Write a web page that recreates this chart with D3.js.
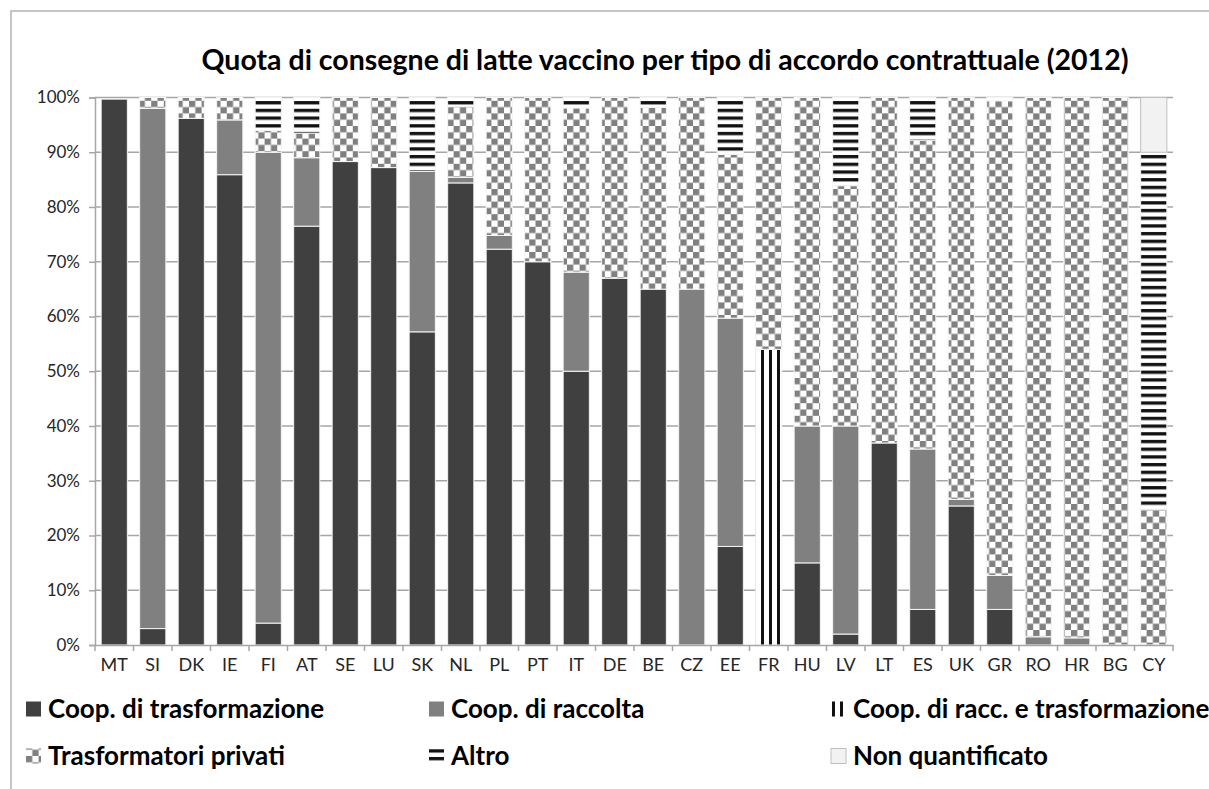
<!DOCTYPE html>
<html>
<head>
<meta charset="utf-8">
<script src="https://cdn.jsdelivr.net/npm/d3@7"></script>
<style>
  body { margin: 0; background: #fff; }
  svg { display: block; font-family: Lato, "Open Sans", sans-serif; }
</style>
</head>
<body>
<div id="bar-plot"></div>
<script>
// values (% of deliveries)
const countries = ["MT","SI","DK","IE","FI","AT","SE","LU","SK","NL","PL","PT","IT","DE","BE","CZ","EE","FR","HU","LV","LT","ES","UK","GR","RO","HR","BG","CY"];
const coopTrasf     = [99.7, 3, 96.2, 85.9, 4, 76.5, 88.3, 87.2, 57.2, 84.4, 72.3, 70, 50, 67, 65, 0, 18, 0, 15, 2, 36.9, 6.5, 25.4, 6.5, 0, 0, 0, 0];
const coopRaccolta  = [0, 95, 0, 10, 86, 12.5, 0, 0, 29.3, 1, 2.5, 0, 18.1, 0, 0, 65, 41.7, 0, 25, 38, 0, 29.3, 1.2, 6.2, 1.5, 1.3, 0, 0];
const coopRaccTrasf = [0, 0, 0, 0, 0, 0, 0, 0, 0, 0, 0, 0, 0, 0, 0, 0, 0, 54, 0, 0, 0, 0, 0, 0, 0, 0, 0, 0];
const privati       = [0, 2, 3.8, 4.1, 4, 4.5, 11.7, 12.8, 0, 13, 25.2, 30, 30, 33, 33.2, 35, 29.9, 46, 60, 43.9, 63.1, 56.4, 73.4, 86.7, 98.5, 98.7, 100, 24.8];
const altro         = [0, 0, 0, 0, 6, 6.5, 0, 0, 13.5, 1.6, 0, 0, 1.9, 0, 1.8, 0, 10.4, 0, 0, 16.1, 0, 7.8, 0, 0.6, 0, 0, 0, 65.2];
const nonQuant      = [0, 0, 0, 0, 0, 0, 0, 0, 0, 0, 0, 0, 0, 0, 0, 0, 0, 0, 0, 0, 0, 0, 0, 0, 0, 0, 0, 10];

const seriesKeys = ["trasf", "raccolta", "raccTrasf", "privati", "altro", "nonQuant"];
const seriesNames = ["Coop. di trasformazione", "Coop. di raccolta", "Coop. di racc. e trasformazione",
                     "Trasformatori privati", "Altro", "Non quantificato"];
const yTicks = [0, 10, 20, 30, 40, 50, 60, 70, 80, 90, 100];
const title = "Quota di consegne di latte vaccino per tipo di accordo contrattuale (2012)";

const width = 1209;
const height = 789;
const margin = { left: 95, right: 36, top: 97.5, bottom: 144 };

const data = countries.map((c, i) => ({
    country: c,
    trasf: coopTrasf[i],
    raccolta: coopRaccolta[i],
    raccTrasf: coopRaccTrasf[i],
    privati: privati[i],
    altro: altro[i],
    nonQuant: nonQuant[i]
}));

let svg = d3.select("#bar-plot")
    .append("svg")
    .attr("width", width)
    .attr("height", height);

// patterns
let defs = svg.append("defs");

let pChk = defs.append("pattern").attr("id", "pat-privati")
    .attr("patternUnits", "userSpaceOnUse").attr("width", 12.6).attr("height", 12.6);
pChk.append("rect").attr("width", 12.6).attr("height", 12.6).attr("fill", "#fff");
pChk.append("rect").attr("width", 6.3).attr("height", 6.3).attr("fill", "#808080");
pChk.append("rect").attr("x", 6.3).attr("y", 6.3).attr("width", 6.3).attr("height", 6.3).attr("fill", "#808080");

let pH = defs.append("pattern").attr("id", "pat-altro")
    .attr("patternUnits", "userSpaceOnUse").attr("width", 8).attr("height", 7.7);
pH.append("rect").attr("width", 8).attr("height", 7.7).attr("fill", "#fff");
pH.append("rect").attr("y", 1).attr("width", 8).attr("height", 3.3).attr("fill", "#111");

let pV = defs.append("pattern").attr("id", "pat-racctrasf")
    .attr("patternUnits", "userSpaceOnUse").attr("width", 8).attr("height", 8);
pV.append("rect").attr("width", 8).attr("height", 8).attr("fill", "#fff");
pV.append("rect").attr("x", 1).attr("width", 3).attr("height", 8).attr("fill", "#111");

const fills = {
    trasf: "#404040",
    raccolta: "#808080",
    raccTrasf: "url(#pat-racctrasf)",
    privati: "url(#pat-privati)",
    altro: "url(#pat-altro)",
    nonQuant: "#f2f2f2"
};

// outer frame
svg.append("rect")
    .attr("x", 11).attr("y", 11)
    .attr("width", width).attr("height", height)
    .attr("fill", "none")
    .attr("stroke", "#b3b3b3")
    .attr("stroke-width", 1.5);

svg.append("text")
    .attr("x", 665)
    .attr("y", 70)
    .attr("text-anchor", "middle")
    .style("font-size", "28.5px")
    .style("font-weight", "bold")
    .attr("fill", "#000")
    .text(title);

let xScale = d3.scaleBand()
    .domain(countries)
    .range([margin.left, width - margin.right])
    .paddingInner(0.32)
    .paddingOuter(0.16);

let yScale = d3.scaleLinear()
    .domain([0, 100])
    .range([height - margin.bottom, margin.top]);

// gridlines
svg.append("g")
    .selectAll("line")
    .data(yTicks.slice(1))
    .enter()
    .append("line")
    .attr("x1", margin.left)
    .attr("x2", width - margin.right)
    .attr("y1", d => yScale(d))
    .attr("y2", d => yScale(d))
    .attr("stroke", "#a6a6a6")
    .attr("stroke-width", 1.5);

let stack = d3.stack().keys(seriesKeys);
let layers = stack(data);

svg.append("g")
    .selectAll("g")
    .data(layers)
    .enter()
    .append("g")
    .attr("fill", d => fills[d.key])
    .selectAll("rect")
    .data(d => d.filter(v => v[1] - v[0] > 0).map(v => Object.assign(v, { key: d.key })))
    .enter()
    .append("rect")
    .attr("x", d => xScale(d.data.country))
    .attr("width", xScale.bandwidth())
    .attr("y", d => yScale(d[1]))
    .attr("height", d => yScale(d[0]) - yScale(d[1]))
    .attr("stroke", d => d.key === "nonQuant" ? "#bfbfbf" : "#f4f4f4")
    .attr("stroke-width", 1);

// axes
let yAxis = svg.append("g")
    .attr("transform", "translate(" + margin.left + ",0)")
    .call(d3.axisLeft(yScale).tickValues(yTicks).tickFormat(d => d + "%").tickSize(6).tickPadding(9));

let xAxis = svg.append("g")
    .attr("transform", "translate(0," + (height - margin.bottom) + ")")
    .call(d3.axisBottom(xScale).tickSize(0).tickPadding(13));

// category boundary ticks
const step = xScale.step();
xAxis.selectAll(".bound")
    .data(d3.range(countries.length + 1))
    .enter()
    .append("line")
    .attr("class", "bound")
    .attr("x1", i => margin.left + i * step)
    .attr("x2", i => margin.left + i * step)
    .attr("y1", 0)
    .attr("y2", 6)
    .attr("stroke", "#a6a6a6")
    .attr("stroke-width", 1.5);

[xAxis, yAxis].forEach(a => {
    a.select(".domain").attr("stroke", "#a6a6a6").attr("stroke-width", 1.5);
    a.selectAll(".tick line").attr("stroke", "#a6a6a6").attr("stroke-width", 1.5);
    a.selectAll("text")
        .style("font-family", "Lato, sans-serif")
        .attr("fill", "#262626");
});
yAxis.selectAll("text").style("font-size", "17px");
xAxis.selectAll(".tick text").style("font-size", "18px").attr("dy", "0.71em");

// legend
const legendPos = [
    { x: 26, y: 709 }, { x: 429, y: 709 }, { x: 831, y: 709 },
    { x: 26, y: 756 }, { x: 429, y: 756 }, { x: 831, y: 756 }
];

let legend = svg.append("g")
    .selectAll("g")
    .data(seriesKeys)
    .enter()
    .append("g")
    .attr("transform", (d, i) => `translate(${legendPos[i].x},${legendPos[i].y})`);

legend.append("rect")
    .attr("x", 0)
    .attr("y", -7.5)
    .attr("width", 15)
    .attr("height", 15)
    .attr("fill", d => fills[d])
    .attr("stroke", d => d === "nonQuant" ? "#bfbfbf" : "none");

legend.append("text")
    .attr("x", 22)
    .attr("y", 0)
    .attr("dy", "0.35em")
    .style("font-size", "26px")
    .style("font-weight", "bold")
    .attr("fill", "#000")
    .text((d, i) => seriesNames[i]);
</script>
</body>
</html>
